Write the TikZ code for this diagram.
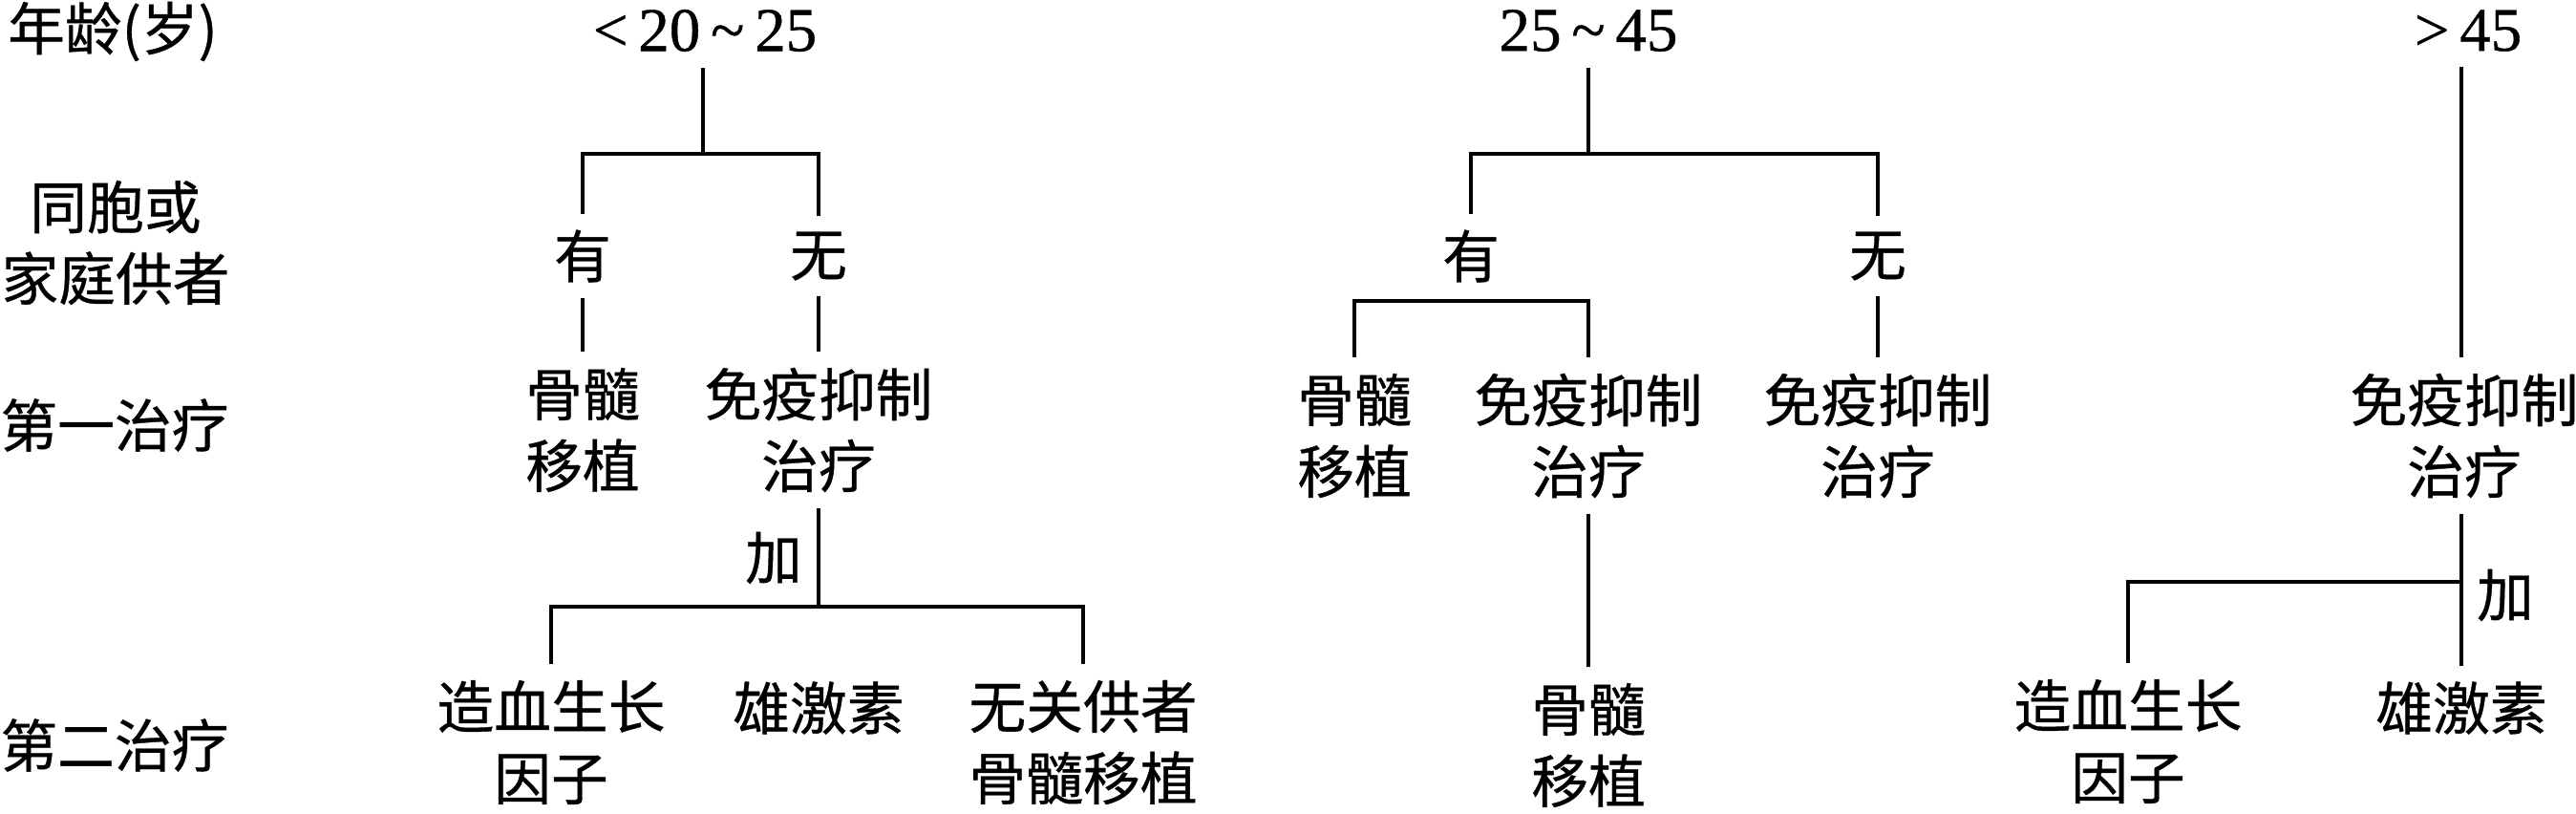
\documentclass[tikz,border=0pt]{standalone}
\usepackage{fontspec}
\usepackage{tikz}
\newfontfamily\cjk{Noto Sans CJK SC}[FakeBold=0.6,AutoFakeBold=0.6]
\newfontfamily\numfont{Liberation Serif}[FakeBold=0.6,AutoFakeBold=0.6]

\begin{document}
\begin{tikzpicture}[line width=1pt,
    lbl/.style={inner sep=0.15cm, align=center, font=\cjk\bfseries\fontsize{17pt}{21.3pt}\selectfont},
    num/.style={inner sep=0.15cm, font=\numfont\bfseries\fontsize{18.5pt}{21.3pt}\selectfont}]
	\useasboundingbox (0,0) rectangle (26.97,-8.51);
	% row labels
	\node[lbl] (rowAge) at (1.18,-0.33) {年龄(岁)};
	\node[lbl] (rowDonor) at (1.21,-2.54) {同胞或\\家庭供者};
	\node[lbl] (rowFirst) at (1.20,-4.45) {第一治疗};
	\node[lbl] (rowSecond) at (1.20,-7.80) {第二治疗};
	% < 20 ~ 25
	\node[num] (ageA) at (7.38,-0.32) {<\,20\,\textasciitilde\,25};
	\node[lbl] (yesA) at (6.10,-2.68) {有};
	\node[lbl] (noA) at (8.57,-2.68) {无};
	\node[lbl] (bmtA) at (6.10,-4.50) {骨髓\\移植};
	\node[lbl] (istA) at (8.57,-4.50) {免疫抑制\\治疗};
	\node[lbl] (plusA) at (8.10,-5.84) {加};
	\node[lbl] (hgfA) at (5.77,-7.77) {造血生长\\因子};
	\node[lbl] (andA) at (8.57,-7.41) {雄激素};
	\node[lbl] (ubmtA) at (11.34,-7.77) {无关供者\\骨髓移植};
	\coordinate (jA) at (7.36,-1.61);
	\coordinate (kA) at (8.57,-6.35);
	\draw (ageA.south -| jA) -- (jA);
	\draw (yesA.north) |- (jA) -| (noA.north);
	\draw (yesA) -- (bmtA);
	\draw (noA) -- (istA);
	\draw (istA) -- (kA);
	\draw (hgfA.north) |- (kA) -| (ubmtA.north);
	% 25 ~ 45
	\node[num] (ageB) at (16.63,-0.32) {25\,\textasciitilde\,45};
	\node[lbl] (yesB) at (15.40,-2.68) {有};
	\node[lbl] (noB) at (19.66,-2.68) {无};
	\node[lbl] (bmtB) at (14.18,-4.56) {骨髓\\移植};
	\node[lbl] (istB) at (16.63,-4.56) {免疫抑制\\治疗};
	\node[lbl] (istC) at (19.66,-4.56) {免疫抑制\\治疗};
	\node[lbl] (smB) at (16.63,-7.80) {骨髓\\移植};
	\coordinate (jB) at (16.63,-1.61);
	\coordinate (kB) at (15.40,-3.15);
	\draw (ageB) -- (jB);
	\draw (yesB.north) |- (jB) -| (noB.north);
	\draw (bmtB.north) |- (kB) -| (istB.north);
	\draw (noB) -- (istC);
	\draw (istB) -- (smB);
	% > 45
	\node[num] (ageC) at (25.84,-0.32) {>\,45};
	\node[lbl] (istD) at (25.80,-4.56) {免疫抑制\\治疗};
	\node[lbl] (plusC) at (26.23,-6.23) {加};
	\node[lbl] (hgfC) at (22.28,-7.76) {造血生长\\因子};
	\node[lbl] (andC) at (25.77,-7.41) {雄激素};
	\coordinate (jC) at (25.77,-6.09);
	\draw (ageC.south -| jC) -- (istD.north -| jC);
	\draw (istD.south -| jC) -- (andC.north -| jC);
	\draw (hgfC.north) |- (jC);
\end{tikzpicture}
\end{document}
